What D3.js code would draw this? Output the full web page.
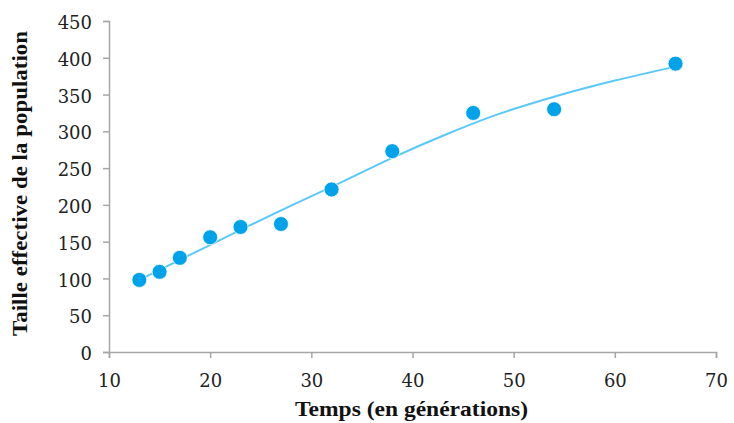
<!DOCTYPE html>
<html>
<head>
<meta charset="utf-8">
<script src="https://cdn.jsdelivr.net/npm/d3@7"></script>
<style>
  body { margin: 0; background: #fff; }
  svg { display: block; }
</style>
</head>
<body>
<div id="chart"></div>
<script>
const width = 734;
const height = 423;

// observed points
const generations = [13, 15, 17, 20, 23, 27, 32, 38, 46, 54, 66];
const effectiveSize = [98, 109, 128, 156, 170, 174, 221, 273, 325, 330, 392];

// trend line
const trendX = [13, 18, 23, 28, 33, 38, 43, 48, 54, 60, 66];
const trendY = [98, 132, 166, 199, 231, 264, 294, 321, 347, 369, 388];

const xTicks = [10, 20, 30, 40, 50, 60, 70];
const yTicks = [0, 50, 100, 150, 200, 250, 300, 350, 400, 450];

const margin = { left: 109, right: 18, top: 21, bottom: 71 };

const x = d3.scaleLinear().domain([10, 70]).range([margin.left, width - margin.right]);
const y = d3.scaleLinear().domain([0, 450]).range([height - margin.bottom, margin.top]);

const svg = d3.select("#chart")
    .append("svg")
    .attr("width", width)
    .attr("height", height);

const axisColor = "#a6a6a6";
const tickFont = "'DejaVu Serif', serif";
const titleFont = "'Liberation Serif', serif";

const xAxis = svg.append("g")
    .attr("transform", `translate(0, ${y(0)})`)
    .call(d3.axisBottom(x).tickValues(xTicks).tickSize(6).tickSizeOuter(6).tickPadding(16));

const yAxis = svg.append("g")
    .attr("transform", `translate(${x(10)}, 0)`)
    .call(d3.axisLeft(y).tickValues(yTicks).tickSize(6).tickSizeOuter(6).tickPadding(11));

[xAxis, yAxis].forEach(g => {
    g.select(".domain").attr("stroke", axisColor).attr("stroke-width", 1.5);
    g.selectAll(".tick line").attr("stroke", axisColor).attr("stroke-width", 1.5);
    g.selectAll(".tick text")
        .attr("fill", "#222")
        .style("font-family", tickFont)
        .style("font-size", "18px");
});
yAxis.selectAll(".tick text").attr("dy", "0.42em");

// trend line
const line = d3.line()
    .x(d => x(d[0]))
    .y(d => y(d[1]))
    .curve(d3.curveMonotoneX);

svg.append("path")
    .datum(d3.zip(trendX, trendY))
    .attr("fill", "none")
    .attr("stroke", "#5cc8f7")
    .attr("stroke-width", 2)
    .attr("d", line);

svg.append("g")
    .selectAll("circle")
    .data(d3.zip(generations, effectiveSize))
    .join("circle")
    .attr("cx", d => x(d[0]))
    .attr("cy", d => y(d[1]))
    .attr("r", 7.5)
    .attr("fill", "#00a3e9")
    .attr("stroke", "#fff")
    .attr("stroke-width", 0.8);

// axis titles
svg.append("text")
    .attr("x", 411.5)
    .attr("y", 416)
    .attr("text-anchor", "middle")
    .attr("textLength", 233)
    .attr("lengthAdjust", "spacingAndGlyphs")
    .style("font-family", titleFont)
    .style("font-weight", "bold")
    .style("font-size", "20px")
    .attr("fill", "#111")
    .text("Temps (en générations)");

svg.append("text")
    .attr("transform", `translate(27, 183.5) rotate(-90)`)
    .attr("text-anchor", "middle")
    .attr("textLength", 305)
    .attr("lengthAdjust", "spacingAndGlyphs")
    .style("font-family", titleFont)
    .style("font-weight", "bold")
    .style("font-size", "21px")
    .attr("fill", "#111")
    .text("Taille effective de la population");
</script>
</body>
</html>
